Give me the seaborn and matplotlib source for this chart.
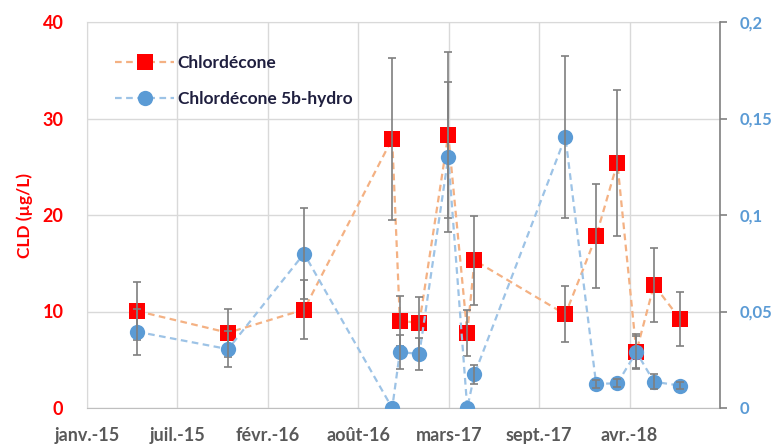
import pandas as pd
import seaborn as sns
import numpy as np
import matplotlib.pyplot as plt
from matplotlib.lines import Line2D

# sampling dates and values
dates = ['2015-04-22', '2015-11-09', '2016-04-25', '2016-11-06', '2016-11-23',
         '2017-01-05', '2017-03-10', '2017-04-21', '2017-05-07', '2017-11-24',
         '2018-01-31', '2018-03-19', '2018-04-30', '2018-06-08', '2018-08-05']
cld = [10.05, 7.8, 10.2, 27.9, 9.05, 8.8, 28.3, 7.75, 15.3, 9.7, 17.8, 25.4, 5.85, 12.75, 9.2]
cld_err = [3.05, 2.5, 3.1, 8.4, 2.6, 2.7, 8.6, 2.4, 4.6, 2.9, 5.4, 7.6, 1.8, 3.8, 2.8]
hydro = [0.0395, 0.0305, 0.080, 0.0, 0.029, 0.028, 0.130, 0.0, 0.0175, 0.1405,
         0.0125, 0.0128, 0.029, 0.0136, 0.0116]
hydro_err = [0.012, 0.0095, 0.0235, 0.0, 0.009, 0.0085, 0.039, 0.0, 0.005, 0.042,
             0.002, 0.002, 0.0085, 0.004, 0.002]
tick_labels = ['janv.-15', 'juil.-15', 'févr.-16', 'août-16', 'mars-17', 'sept.-17', 'avr.-18']

start = pd.Timestamp('2015-01-01')
df = pd.DataFrame({'date': pd.to_datetime(dates), 'cld': cld, 'cld_err': cld_err,
                   'hydro': hydro, 'hydro_err': hydro_err})
df['day'] = (df['date'] - start).dt.days

sns.set_style('white')
plt.rcParams['font.family'] = ['Lato', 'DejaVu Sans']

red = '#FF0000'
red_line = '#F4B183'
blue = '#5B9BD5'
blue_line = '#9DC3E6'
grey_err = '#7F7F7F'

fig = plt.figure(figsize=(7.78, 4.47), dpi=100)
ax = fig.add_axes([87 / 778, 1 - 408 / 447, 633 / 778, 386 / 447])
ax2 = ax.twinx()

# Chlordécone on the left axis
sns.lineplot(data=df, x='day', y='cld', ax=ax, sort=False, color=red_line,
             linestyle=(0, (3, 2)), linewidth=1.6, zorder=2)
ax.plot(df['day'], df['cld'], linestyle='none', marker='s', markersize=12,
        markerfacecolor=red, markeredgewidth=0, zorder=3)
ax.errorbar(df['day'], df['cld'], yerr=df['cld_err'], fmt='none', ecolor=grey_err,
            elinewidth=1.2, capsize=3.2, capthick=1.2, zorder=4)

# Chlordécone 5b-hydro on the right axis
sns.lineplot(data=df, x='day', y='hydro', ax=ax2, sort=False, color=blue_line,
             linestyle=(0, (3, 2)), linewidth=1.6, zorder=2)
ax2.plot(df['day'], df['hydro'], linestyle='none', marker='o', markersize=11,
         markerfacecolor=blue, markeredgewidth=0, zorder=3)
err_mask = df['hydro_err'] > 0
ax2.errorbar(df.loc[err_mask, 'day'], df.loc[err_mask, 'hydro'],
             yerr=df.loc[err_mask, 'hydro_err'], fmt='none', ecolor=grey_err,
             elinewidth=1.2, capsize=3.2, capthick=1.2, zorder=4)

ax.set_xlim(0, 1400)
ax.set_ylim(0, 40)
ax2.set_ylim(0, 0.2)

ax.set_xticks(np.arange(0, 1401, 200))
ax.set_xticklabels(tick_labels + [''])
ax.set_yticks([0, 10, 20, 30, 40])
ax2.set_yticks([0, 0.05, 0.1, 0.15, 0.2])
ax2.set_yticklabels(['0', '0,05', '0,1', '0,15', '0,2'])

ax.grid(True, color='#D9D9D9', linewidth=1)
ax.set_axisbelow(True)
ax2.grid(False)

ax.tick_params(axis='x', length=0, pad=14, labelsize=13, labelcolor='#595959')
ax.tick_params(axis='y', length=0, pad=17, labelsize=13, labelcolor=red)
ax2.tick_params(axis='y', length=5, width=1.2, color='#808080', pad=9,
                labelsize=12, labelcolor=blue)
for lab in ax.get_xticklabels() + ax.get_yticklabels() + ax2.get_yticklabels():
    lab.set_fontweight('bold')

ax.set_xlabel('')
ax.set_ylabel('CLD (µg/L)', color=red, fontsize=12.5, fontweight='bold', labelpad=7)
ax2.set_ylabel('')

for side in ['left', 'top']:
    ax.spines[side].set_color('#D9D9D9')
    ax2.spines[side].set_visible(False)
ax.spines['right'].set_visible(False)
ax.spines['bottom'].set_color('#BFBFBF')
ax2.spines['bottom'].set_visible(False)
ax2.spines['right'].set_color('#808080')
ax2.spines['right'].set_linewidth(1.2)

handles = [
    Line2D([], [], color=red_line, linestyle=(0, (3, 2)), linewidth=1.6, marker='s',
           markersize=12, markerfacecolor=red, markeredgewidth=0),
    Line2D([], [], color=blue_line, linestyle=(0, (3, 2)), linewidth=1.6, marker='o',
           markersize=11, markerfacecolor=blue, markeredgewidth=0),
]
ax2.legend(handles, ['Chlordécone', 'Chlordécone 5b-hydro'], loc='upper left',
           bbox_to_anchor=(0.02, 0.955), frameon=False,
           prop={'size': 12.5, 'weight': 'bold'},
           labelspacing=1.15, handlelength=3.4, handletextpad=0.2, numpoints=1,
           labelcolor='#1F1F3F')

fig.savefig('out.png', dpi=100)
